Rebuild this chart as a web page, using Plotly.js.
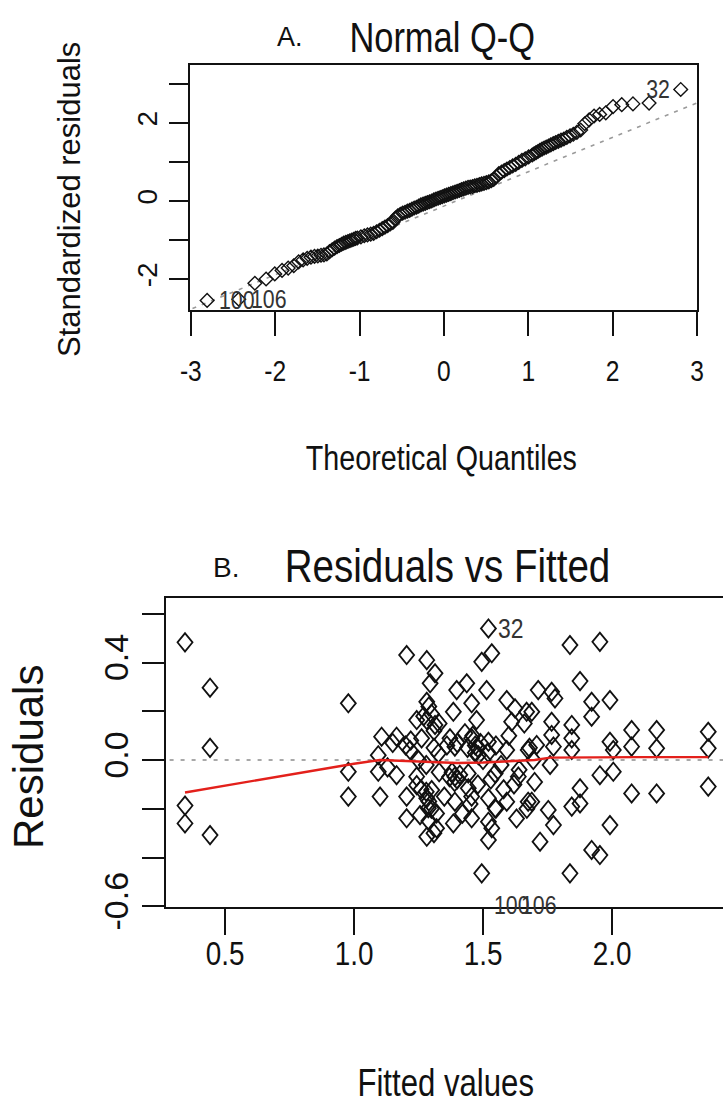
<!DOCTYPE html>
<html>
<head>
<meta charset="utf-8">
<script src="https://cdn.plot.ly/plotly-3.0.1.min.js"></script>
<style>
html,body{margin:0;padding:0;background:#fff;overflow:hidden;width:723px;height:1107px;}
#chart{width:740px;height:1107px;}
</style>
</head>
<body>
<div id="chart"></div>
<script>
// ---------- Panel A: Normal Q-Q ----------
const qqTheoretical = [-2.807,-2.432,-2.241,-2.108,-2.005,-1.919,-1.846,-1.780,-1.722,-1.669,
 -1.621,-1.576,-1.534,-1.495,-1.457,-1.422,-1.388,-1.356,-1.325,-1.296,
 -1.267,-1.240,-1.213,-1.188,-1.163,-1.138,-1.115,-1.092,-1.069,-1.047,
 -1.026,-0.984,-0.944,-0.906,-0.868,-0.833,-0.798,-0.764,-0.731,-0.699,
 -0.667,-0.636,-0.605,-0.575,-0.546,-0.517,-0.489,-0.461,-0.433,-0.406,
 -0.379,-0.352,-0.325,-0.299,-0.273,-0.247,-0.221,-0.196,-0.170,-0.145,
 -0.119,-0.094,-0.069,-0.044,-0.019,0.006,0.031,0.056,0.082,0.107,
 0.132,0.157,0.183,0.208,0.234,0.260,0.286,0.312,0.339,0.366,
 0.392,0.420,0.447,0.475,0.503,0.532,0.561,0.590,0.620,0.651,
 0.683,0.715,0.747,0.781,0.815,0.851,0.887,0.925,0.964,1.004,
 1.047,1.069,1.092,1.115,1.138,1.163,1.188,1.213,1.240,1.267,
 1.296,1.325,1.356,1.388,1.422,1.457,1.495,1.534,1.576,1.621,
 1.669,1.722,1.780,1.846,1.919,2.005,2.108,2.241,2.432,2.807];
const qqStdResid = [-2.55,-2.52,-2.11,-2.00,-1.87,-1.78,-1.72,-1.66,-1.56,-1.51,
 -1.47,-1.44,-1.42,-1.41,-1.39,-1.38,-1.36,-1.30,-1.25,-1.21,
 -1.17,-1.14,-1.11,-1.08,-1.06,-1.04,-1.02,-1.00,-0.98,-0.96,
 -0.95,-0.92,-0.89,-0.87,-0.85,-0.83,-0.79,-0.75,-0.71,-0.67,
 -0.63,-0.59,-0.55,-0.44,-0.38,-0.34,-0.31,-0.29,-0.26,-0.24,
 -0.21,-0.18,-0.16,-0.13,-0.10,-0.08,-0.06,-0.04,-0.02,0.00,
 0.03,0.05,0.07,0.09,0.11,0.13,0.15,0.17,0.19,0.21,
 0.23,0.25,0.27,0.29,0.31,0.33,0.35,0.36,0.37,0.39,
 0.40,0.42,0.44,0.45,0.47,0.49,0.52,0.55,0.62,0.70,
 0.74,0.78,0.82,0.86,0.90,0.94,0.99,1.04,1.08,1.13,
 1.18,1.21,1.24,1.27,1.30,1.33,1.36,1.38,1.41,1.44,
 1.47,1.50,1.53,1.56,1.59,1.63,1.67,1.71,1.76,1.82,
 1.98,2.08,2.18,2.22,2.26,2.42,2.47,2.49,2.51,2.86];
const qqLineX = [-3.2, 3.2];
const qqLineY = [-2.95, 2.69];
const qqLabels = ["100", "106", "32"];
const qqLabelIdx = [0, 1, 129];
const qqXTicks = [-3,-2,-1,0,1,2,3];
const qqXTickText = ["-3","-2","-1","0","1","2","3"];
const qqYTicks = [-2,-1,0,1,2,3];
const qqYTickText = ["-2","","0","","2",""];

// ---------- Panel B: Residuals vs Fitted ----------
const fittedValues = [0.345,0.442,0.442,0.345,0.345,0.442,0.978,0.978,0.978,
 1.521,1.534,1.495,1.204,1.282,1.314,1.295,1.398,1.437,1.514,1.592,1.624,1.669,1.282,1.456,1.385,
 1.243,1.282,1.475,1.314,1.611,1.107,1.165,1.262,1.372,1.456,1.521,1.391,1.217,1.592,1.675,
 1.094,1.327,1.482,1.094,1.165,1.243,1.391,1.443,1.547,1.637,1.243,1.301,1.443,1.101,1.204,
 1.282,1.391,1.456,1.521,1.592,1.675,1.288,1.547,1.204,1.256,1.320,1.385,1.456,1.521,1.282,
 1.320,1.521,1.534,1.495,
 1.837,1.953,1.876,1.714,1.766,1.779,1.921,1.992,1.921,1.689,1.766,1.844,1.766,1.844,2.076,
 2.173,2.373,2.076,2.173,2.373,1.992,2.005,1.844,1.708,1.773,1.695,1.760,1.953,2.005,2.076,
 2.173,2.373,1.876,1.844,1.876,1.753,1.773,1.721,1.992,1.921,1.953,1.837,1.689,
 1.38,1.40,1.39,1.41,1.37,1.36,1.40,1.44,1.46,1.47,1.43,1.30,1.29,1.31,1.28,1.30,1.29,1.31,
 1.27,1.31,1.33,1.25,1.22,1.50,1.52,1.55,1.57,1.60,1.62,1.64,1.58,1.55,1.53,1.48,1.45,1.42,
 1.35,1.33,1.26,1.20,1.15,1.13,1.68,1.70,1.66,1.63,1.67,1.48,1.49,1.47,1.28,1.29];
const residualValues = [0.483,0.297,0.050,-0.187,-0.260,-0.308,0.233,-0.048,-0.150,
 0.540,0.438,0.403,0.431,0.410,0.356,0.315,0.287,0.315,0.287,0.246,0.212,0.198,0.239,0.233,0.198,
 0.164,0.164,0.164,0.144,0.157,0.096,0.096,0.089,0.089,0.089,0.075,0.055,0.041,0.041,0.041,
 0.020,0.027,0.020,-0.048,-0.062,-0.068,-0.068,-0.055,-0.055,-0.068,-0.103,-0.123,-0.116,-0.150,-0.150,
 -0.157,-0.171,-0.150,-0.157,-0.171,-0.171,-0.198,-0.198,-0.239,-0.226,-0.219,-0.260,-0.239,-0.253,-0.315,
 -0.280,-0.328,-0.280,-0.465,
 0.472,0.485,0.324,0.287,0.280,0.253,0.239,0.246,0.178,0.198,0.157,0.144,0.103,0.089,0.123,
 0.123,0.116,0.055,0.048,0.048,0.075,0.041,0.041,0.062,0.055,0.000,-0.020,-0.062,-0.048,-0.137,
 -0.137,-0.109,-0.116,-0.191,-0.178,-0.205,-0.267,-0.335,-0.267,-0.369,-0.390,-0.465,-0.171,
 -0.05,-0.08,-0.09,-0.06,-0.07,0.06,0.07,0.05,0.10,0.06,0.11,0.19,0.22,0.05,-0.02,-0.20,-0.25,-0.30,
 0.18,0.12,-0.05,0.00,0.08,0.00,0.03,0.06,-0.02,0.10,-0.10,-0.04,-0.12,-0.20,-0.08,-0.10,-0.18,-0.22,
 -0.15,0.15,-0.12,0.06,0.07,-0.03,0.05,-0.09,0.15,-0.24,-0.20,0.05,0.07,0.03,-0.13,-0.17];
const smoothX = [0.345,0.5,0.7,0.9,1.0,1.1,1.2,1.3,1.4,1.5,1.6,1.7,1.76,1.9,2.1,2.373];
const smoothY = [-0.133,-0.105,-0.070,-0.035,-0.015,0.000,-0.005,-0.010,-0.012,-0.010,-0.005,0.000,0.010,0.012,0.012,0.012];
const zeroLineX = [0.2, 2.6];
const zeroLineY = [0, 0];
const rvLabels = ["32", "100", "106"];
const rvLabelX = [1.521, 1.535, 1.64];
const rvLabelY = [0.540, -0.595, -0.595];
const rvXTicks = [0.5,1.0,1.5,2.0];
const rvXTickText = ["0.5","1.0","1.5","2.0"];
const rvYTicks = [-0.6,-0.4,-0.2,0.0,0.2,0.4,0.6];
const rvYTickText = ["-0.6","","","0.0","","0.4",""];

// ---------- drawing ----------
const W = 740, H = 1107;
const FONT = "'Liberation Sans',Arial,sans-serif";
const INK = "#111";
const SQUEEZE = 0.82;   // horizontal text in the reference is condensed
const px = v => v / W;
const py = v => 1 - v / H;

const traces = [
  {x: qqLineX, y: qqLineY, xaxis:'x', yaxis:'y', mode:'lines',
   line:{color:'#9a9a9a', width:1.6, dash:'4px,6px'}, hoverinfo:'skip'},
  {x: qqTheoretical, y: qqStdResid, xaxis:'x', yaxis:'y', mode:'markers',
   marker:{symbol:'diamond-open', size:10.5, color:INK, line:{width:1.4, color:INK}}},
  {x: zeroLineX, y: zeroLineY, xaxis:'x2', yaxis:'y2', mode:'lines',
   line:{color:'#a8a8a8', width:2, dash:'4px,7px'}, hoverinfo:'skip'},
  {x: fittedValues, y: residualValues, xaxis:'x2', yaxis:'y2', mode:'markers',
   marker:{symbol:'diamond-open', size:12.5, color:INK, line:{width:1.8, color:INK}}},
  {x: smoothX, y: smoothY, xaxis:'x2', yaxis:'y2', mode:'lines',
   line:{color:'#e3201b', width:2.4}, hoverinfo:'skip'}
];

const axisBase = {showline:true, mirror:true, linecolor:INK, linewidth:2, ticks:'outside',
  tickcolor:INK, tickwidth:2, showgrid:false, zeroline:false, fixedrange:true};

const annotations = [];
const squeezeInfo = [];   // per annotation: [scale, pivot]
function paperText(text, x, y, size, angle, squeeze){
  annotations.push({text:text, xref:'paper', yref:'paper', x:px(x), y:py(y),
    xanchor:'center', yanchor:'middle', showarrow:false, textangle:angle||0,
    font:{size:size, family:FONT, color:INK}});
  squeezeInfo.push([squeeze ? SQUEEZE : 1, 'center']);
}
paperText('A.', 290, 37, 27, 0, false);
paperText('Normal Q-Q', 442, 37, 42, 0, true);
paperText('Theoretical Quantiles', 441, 457, 35, 0, true);
paperText('Standardized residuals', 70, 200, 31, -90, false);
paperText('B.', 226, 567, 28, 0, false);
paperText('Residuals vs Fitted', 447, 565, 47, 0, true);
paperText('Fitted values', 446, 1083, 38, 0, true);
paperText('Residuals', 28, 757, 42, -90, false);

// point labels, panel A
qqLabels.forEach((t, k) => {
  const i = qqLabelIdx[k];
  const right = t === '32';
  annotations.push({text:t, xref:'x', yref:'y', x:qqTheoretical[i], y:qqStdResid[i],
    xanchor: right ? 'right' : 'left', yanchor:'middle', xshift: right ? -9 : 10,
    showarrow:false, font:{size:26, family:FONT, color:'#333'}});
  squeezeInfo.push([SQUEEZE, right ? 'right' : 'left']);
});
// point labels, panel B
rvLabels.forEach((t, k) => {
  annotations.push({text:t, xref:'x2', yref:'y2', x:rvLabelX[k], y:rvLabelY[k],
    xanchor:'left', yanchor:'middle', xshift: t === '32' ? 8 : 0,
    showarrow:false, font:{size:t === '32' ? 28 : 26, family:FONT, color:'#333'}});
  squeezeInfo.push([SQUEEZE, 'left']);
});

const layout = {
  width: W, height: H,
  margin: {l:0, r:0, t:0, b:0},
  paper_bgcolor:'#fff', plot_bgcolor:'#fff', showlegend:false,
  font:{family:FONT, color:INK},
  xaxis: Object.assign({}, axisBase, {domain:[px(190), px(697)], range:[-3.01, 3.0], anchor:'y',
    tickvals:qqXTicks, ticktext:qqXTickText, ticklen:24, ticklabelstandoff:9,
    tickfont:{size:30, family:FONT, color:INK}}),
  yaxis: Object.assign({}, axisBase, {domain:[py(310), py(65)], range:[-2.795, 3.487], anchor:'x',
    tickvals:qqYTicks, ticktext:qqYTickText, ticklen:19, tickangle:-90, ticklabelstandoff:1,
    tickfont:{size:28, family:FONT, color:INK}}),
  xaxis2: Object.assign({}, axisBase, {domain:[px(166), px(731)], range:[0.2713, 2.4612], anchor:'y2',
    tickvals:rvXTicks, ticktext:rvXTickText, ticklen:26, ticklabelstandoff:-11,
    tickfont:{size:34, family:FONT, color:INK}}),
  yaxis2: Object.assign({}, axisBase, {domain:[py(907), py(598)], range:[-0.603, 0.665], anchor:'x2',
    tickvals:rvYTicks, ticktext:rvYTickText, ticklen:22, tickangle:-90, ticklabelstandoff:0,
    tickfont:{size:34, family:FONT, color:INK}}),
  annotations: annotations
};

const gd = document.getElementById('chart');
Plotly.newPlot(gd, traces, layout, {staticPlot:true, displayModeBar:false}).then(() => {
  // condense horizontal x tick labels about their own centre
  gd.querySelectorAll('.xtick text, .x2tick text').forEach(t => {
    const tr = t.getAttribute('transform') || '';
    t.setAttribute('transform', tr + ' scale(' + SQUEEZE + ',1)');
  });
  // condense horizontal annotation texts about their anchor
  gd.querySelectorAll('g.annotation').forEach(g => {
    const idx = +g.getAttribute('data-index');
    const info = squeezeInfo[idx];
    if (!info || info[0] === 1) return;
    const t = g.querySelector('text.annotation-text');
    if (!t) return;
    const bb = t.getBBox();
    let pivot = bb.x + bb.width / 2;
    if (info[1] === 'left') pivot = bb.x;
    if (info[1] === 'right') pivot = bb.x + bb.width;
    t.setAttribute('transform', 'translate(' + pivot + ',0) scale(' + info[0] + ',1) translate(' + (-pivot) + ',0)');
  });
  // the reference's panel B markers are slightly taller than wide
  const sub = gd.querySelector('.subplot.x2y2');
  if (sub) {
    const tr = sub.querySelectorAll('.scatterlayer .trace');
    if (tr[1]) tr[1].querySelectorAll('.points path').forEach(p => {
      const t0 = p.getAttribute('transform') || '';
      p.setAttribute('transform', t0 + ' scale(0.92,1.12)');
    });
  }
});
</script>
</body>
</html>
